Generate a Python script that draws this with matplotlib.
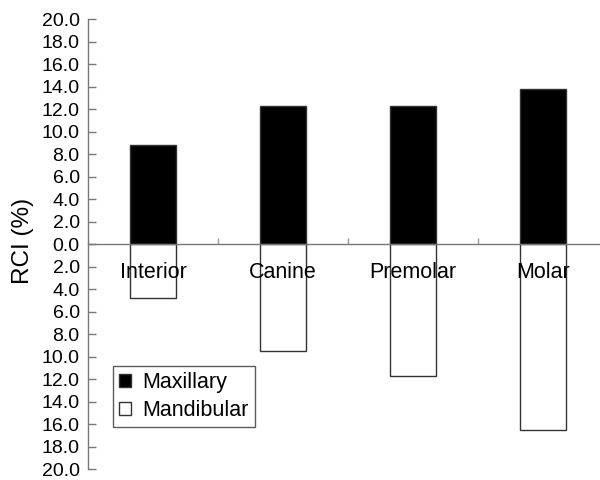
import matplotlib
matplotlib.use("Agg")
import matplotlib.pyplot as plt
from matplotlib.ticker import FuncFormatter, FixedLocator

teeth = ["Interior", "Canine", "Premolar", "Molar"]
maxillary = [8.8, 12.3, 12.3, 13.8]
mandibular = [4.8, 9.5, 11.7, 16.5]
y_ticks = list(range(-20, 21, 2))

plt.rcParams["font.family"] = ["Liberation Sans", "DejaVu Sans"]

fig = plt.figure(figsize=(6, 4.8), dpi=100)
ax = fig.add_axes([0.1467, 0.0229, 0.8667, 0.9375])

pos = list(range(len(teeth)))
ax.bar(pos, maxillary, width=0.35, color="black", edgecolor="#333333",
       linewidth=1, label="Maxillary")
ax.bar(pos, [-v for v in mandibular], width=0.35, color="white",
       edgecolor="#333333", linewidth=1, label="Mandibular")

ax.set_xlim(-0.5, len(teeth) - 0.5)
ax.set_ylim(-20, 20)

ax.spines["top"].set_visible(False)
ax.spines["right"].set_visible(False)
ax.spines["bottom"].set_position(("data", 0))
for s in ("left", "bottom"):
    ax.spines[s].set_color("#777777")
    ax.spines[s].set_linewidth(1)

ax.set_yticks(y_ticks)
ax.yaxis.set_major_formatter(FuncFormatter(lambda v, p: f"{abs(v):.1f}"))
ax.tick_params(axis="y", direction="in", length=6, width=1, color="#777777",
               pad=6, labelsize=14)

ax.set_xticks(pos)
ax.set_xticklabels(teeth)
ax.xaxis.set_minor_locator(FixedLocator([p + 0.5 for p in pos[:-1]]))
ax.tick_params(axis="x", which="major", length=0, pad=13, labelsize=15.5)
ax.tick_params(axis="x", which="minor", direction="in", length=4, width=1,
               color="#999999")

ax.set_ylabel("RCI (%)", fontsize=17.5)
ax.yaxis.set_label_coords(-0.104, 0.507)

leg = ax.legend(loc="lower left", bbox_to_anchor=(0.048, 0.093),
                borderaxespad=0, fancybox=False, fontsize=15.5,
                handlelength=0.55, handleheight=0.55, handletextpad=0.5,
                labelspacing=0.3, borderpad=0.3)
leg.get_frame().set_edgecolor("#333333")
leg.get_frame().set_linewidth(1)

fig.savefig("out.png", dpi=100)
